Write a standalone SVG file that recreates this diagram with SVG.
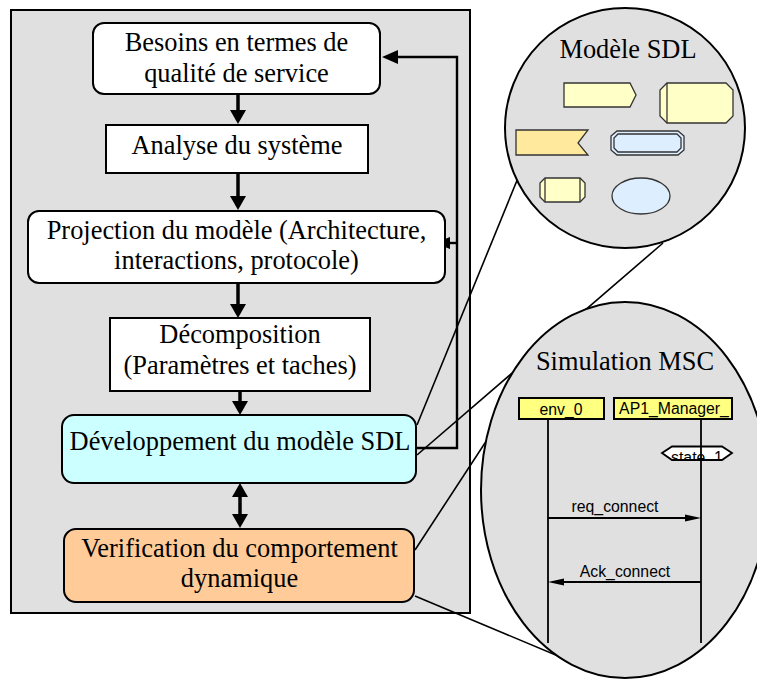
<svg xmlns="http://www.w3.org/2000/svg" width="757" height="680" viewBox="0 0 757 680">
<defs>
<style>
.box{stroke:#000;stroke-width:2}
.t{font-family:"Liberation Serif","Times New Roman",serif;font-size:26.4px;fill:#000;text-anchor:middle}
.s{font-family:"Liberation Sans",Arial,sans-serif;font-size:15.8px;fill:#000;text-anchor:middle}
.thick{stroke:#000;stroke-width:3.5;fill:none}
.fb{stroke:#000;stroke-width:2.4;fill:none}
.zl{stroke:#000;stroke-width:1.6;fill:none}
.sh{stroke:#333;stroke-width:1.3}
.ms{stroke:#000;stroke-width:1.8;fill:none}
</style>
<clipPath id="hexclip"><polygon points="662,453 672,446.5 722,446.5 732,453 722,460 672,460"/></clipPath>
</defs>
<rect x="11" y="10" width="459" height="603" fill="#E0E0E0" stroke="#000" stroke-width="2"/>
<g id="connectors">
<line class="thick" x1="238" y1="94" x2="238" y2="112"/>
<polygon points="230,110 246,110 238,124"/>
<line class="thick" x1="238" y1="173" x2="238" y2="198"/>
<polygon points="230,196 246,196 238,210"/>
<line class="thick" x1="238" y1="283" x2="238" y2="306"/>
<polygon points="230,304 246,304 238,318"/>
<line class="thick" x1="240" y1="391" x2="240" y2="403"/>
<polygon points="232,401 248,401 240,415"/>
<line class="thick" x1="240" y1="495" x2="240" y2="516"/>
<polygon points="232,497 248,497 240,483"/>
<polygon points="232,514 248,514 240,528"/>
<path class="fb" d="M416,448 H457 V57 H396"/>
<polygon points="382,57 398,50 398,64"/>
<line class="fb" x1="457" y1="243" x2="448" y2="243"/>
<polygon points="435,243 450,237 450,249"/>
</g>
<g id="n1"><rect class="box" x="93" y="23" width="287" height="71" rx="11" fill="#FFF"/>
<text class="t" x="236.5" y="51">Besoins en termes de</text><text class="t" x="236.5" y="82">qualité de service</text></g>
<g id="n2"><rect class="box" x="106" y="125" width="262" height="48" fill="#FFF"/>
<text class="t" x="237" y="154">Analyse du système</text></g>
<g id="n3"><rect class="box" x="28" y="211" width="417" height="72" rx="11" fill="#FFF"/>
<text class="t" x="236.5" y="239">Projection du modèle (Architecture,</text><text class="t" x="236.5" y="269">interactions, protocole)</text></g>
<g id="n4"><rect class="box" x="110" y="318" width="260" height="73" fill="#FFF"/>
<text class="t" x="240" y="343">Décomposition</text><text class="t" x="240" y="374">(Paramètres et taches)</text></g>
<g id="n5"><rect class="box" x="62" y="415" width="354" height="68" rx="12" fill="#CCFFFF"/>
<text class="t" x="240" y="450">Développement du modèle SDL</text></g>
<g id="n6"><rect class="box" x="64" y="529" width="350" height="73" rx="12" fill="#FFCC99"/>
<text class="t" x="239.5" y="557">Verification du comportement</text><text class="t" x="239.5" y="587">dynamique</text></g>
<g id="zoom-lines">
<line class="zl" x1="417" y1="425" x2="518" y2="178"/>
<line class="zl" x1="417" y1="455" x2="663" y2="243"/>
<line class="zl" x1="415" y1="550" x2="500" y2="420"/>
<line class="zl" x1="415" y1="596" x2="570" y2="661"/>
</g>
<g id="sdl-model">
<circle cx="625" cy="128" r="120" fill="#E0E0E0" stroke="#000" stroke-width="2"/>
<text class="t" x="628" y="58">Modèle SDL</text>
<polygon class="sh" fill="#FFFFC8" points="564,83 630,83 636,95 630,107 564,107"/>
<polygon class="sh" fill="#FFFFC8" points="667,83 726,83 733,90 733,116 726,123 667,123 660,116 660,90"/>
<line class="sh" x1="667" y1="83" x2="667" y2="123"/>
<polygon class="sh" fill="#FFE99C" points="516,130 588,130 578,143 588,155 516,155"/>
<polygon class="sh" fill="#DDEEFF" points="617,131 678,131 684,136 684,150 678,155 617,155 611,150 611,136"/>
<polygon class="sh" fill="none" stroke-width="1.8" points="618,134 677,134 681,138 681,148 677,152 618,152 614,148 614,138"/>
<polygon class="sh" fill="#FFFFC8" points="545,178 580,178 585,183 585,197 580,202 545,202 540,197 540,183"/>
<line class="sh" x1="545" y1="178" x2="545" y2="202"/>
<line class="sh" x1="580" y1="178" x2="580" y2="202"/>
<ellipse class="sh" cx="641" cy="196" rx="29" ry="18" fill="#DDEEFF"/>
</g>
<g id="msc-simulation">
<ellipse cx="625" cy="490" rx="144" ry="188" fill="#E0E0E0" stroke="#000" stroke-width="2"/>
<text class="t" x="625" y="370">Simulation MSC</text>
<rect x="519" y="398" width="85" height="21" fill="#FFFF80" stroke="#000" stroke-width="2"/>
<text class="s" x="561" y="415">env_0</text>
<rect x="614" y="398" width="118" height="21" fill="#FFFF80" stroke="#000" stroke-width="2"/>
<text class="s" x="674" y="414">AP1_Manager_</text>
<polygon points="662,453 672,446.5 722,446.5 732,453 722,460 672,460" fill="#FFF"/>
<text class="s" x="697" y="463" clip-path="url(#hexclip)" font-size="17.5">state_1</text>
<polygon points="662,453 672,446.5 722,446.5 732,453 722,460 672,460" fill="none" stroke="#000" stroke-width="1.8"/>
<line class="ms" x1="548" y1="419" x2="548" y2="643"/>
<line class="ms" x1="701" y1="419" x2="701" y2="643"/>
<text class="s" x="615" y="512">req_connect</text>
<line class="ms" x1="548" y1="518" x2="688" y2="518"/>
<polygon points="701,518 685,514.5 685,521.5"/>
<text class="s" x="625" y="577">Ack_connect</text>
<line class="ms" x1="701" y1="582" x2="561" y2="582"/>
<polygon points="548,582 564,578.5 564,585.5"/>
</g>
</svg>
